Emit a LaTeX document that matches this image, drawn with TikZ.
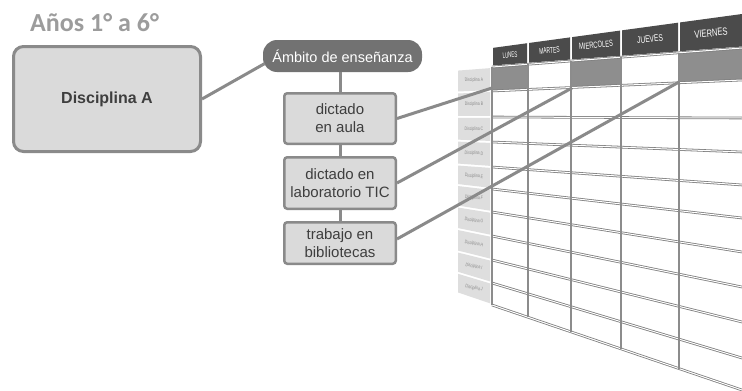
\documentclass[tikz,border=0pt]{standalone}
\usepackage{fontspec}
\usepackage{graphicx}
\setmainfont{Liberation Sans}
\newfontfamily\carlito{Carlito}
\usetikzlibrary{calc}
\definecolor{bordergray}{HTML}{8A8A8A}
\definecolor{boxfill}{HTML}{DADADA}
\definecolor{pillgray}{HTML}{727272}
\definecolor{hdrgray}{HTML}{4B4B4B}
\definecolor{cellgray}{HTML}{8E8E8E}
\definecolor{titlegray}{HTML}{9C9C9C}
\definecolor{textgray}{HTML}{3E3E3E}
\definecolor{labelfill}{HTML}{DEDEDE}
\definecolor{labeltext}{HTML}{8A8A8A}
\definecolor{gridgray}{HTML}{8C8C8C}
\definecolor{hgridgray}{HTML}{7E7E7E}
\begin{document}
\begin{tikzpicture}[x=1pt,y=-1pt,
  mainbox/.style={draw=bordergray, line width=3pt, fill=boxfill, rounded corners=10pt,
    minimum width=187pt, minimum height=105pt, text=textgray,
    font=\fontsize{16}{18}\selectfont\bfseries},
  pill/.style={fill=pillgray, rounded corners=14pt, minimum width=159pt, minimum height=32pt,
    text=white, font=\fontsize{14.5}{16}\selectfont, inner sep=0pt},
  smallbox/.style={draw=bordergray, line width=2.5pt, fill=boxfill, rounded corners=3pt,
    minimum width=111.5pt, align=center, text=textgray, inner sep=0pt,
    font=\fontsize{15}{18}\selectfont},
  link/.style={draw=bordergray, line width=3pt},
  hline/.style={draw=hgridgray, line width=0.8pt, double=white, double distance=1pt},
  vline/.style={draw=gridgray, line width=2.4pt},
  hdrtext/.style={text=white, inner sep=0pt},
  rowlabel/.style={text=labeltext, inner sep=0pt, font=\fontsize{5}{5}\selectfont},
  titletext/.style={text=titlegray, inner sep=0pt, font=\carlito\bfseries\fontsize{26}{28}\selectfont}
]
\useasboundingbox (0,0) rectangle (742,391);
\clip (0,0) rectangle (742,391);
\fill[white] (0,0) rectangle (742,391);

% ---------- grid ----------
\foreach \a/\b in {492/528, 528/571, 571/621, 621/679, 679/760} {
  \fill[hdrgray] ({\a+1},{48-34/250*(\a+1-492)}) -- ({\b-1},{48-34/250*(\b-1-492)})
    -- ({\b-1},{67-19/250*(\b-1-492)-1.5}) -- ({\a+1},{67-19/250*(\a+1-492)-1.5}) -- cycle;
}
\foreach \a/\b in {492/528, 571/621, 679/760} {
  \fill[cellgray] (\a,{67-19/250*(\a-492)}) -- (\b,{67-19/250*(\b-492)})
    -- (\b,{91-11/250*(\b-492)}) -- (\a,{91-11/250*(\a-492)}) -- cycle;
}
\foreach \L/\R in {67/48, 91/80, 117/118, 142/152, 167/185, 189/218, 212/252, 236/287, 260/322, 283/358, 305/390} {
  \draw[hline] (492,\L) -- (760,{\L+(\R-\L)/250*268});
}
\foreach \x in {492,528,571,621,679} {
  \draw[vline] (\x,{67-19/250*(\x-492)}) -- (\x,{305+85/250*(\x-492)});
}

% row labels
\foreach \L/\R/\LL/\RR/\n/\ang in {67/48/91/80/A/2.5, 91/80/117/118/B/1, 117/118/142/152/C/-1,
   142/152/167/185/D/-2.5, 167/185/189/218/E/-4, 189/218/212/252/F/-5.5, 212/252/236/287/G/-7,
   236/287/260/322/H/-9, 260/322/283/358/I/-10.5, 283/358/305/390/J/-12} {
  \fill[labelfill] (458,{\L-(\R-\L)/250*34+1}) -- (490,{\L-(\R-\L)/250*2+1})
    -- (490,{\LL-(\RR-\LL)/250*2-1}) -- (458,{\LL-(\RR-\LL)/250*34-1}) -- cycle;
  \node[rowlabel, rotate=\ang] (lab\n) at (474,{(\L+\LL)/2-0.036*((\R-\L)+(\RR-\LL))}) {\scalebox{0.7}[1]{Disciplina \n}};
}

% header labels
\node[hdrtext, rotate=4, font=\fontsize{8}{8}\selectfont] (hLun) at (510,55) {\scalebox{0.55}[1]{LUNES}};
\node[hdrtext, rotate=5, font=\fontsize{8.5}{8.5}\selectfont] (hMar) at (549.5,50.5) {\scalebox{0.58}[1]{MARTES}};
\node[hdrtext, rotate=5, font=\fontsize{9}{9}\selectfont] (hMie) at (596,45) {\scalebox{0.64}[1]{MIERCOLES}};
\node[hdrtext, rotate=5.5, font=\fontsize{9.5}{9.5}\selectfont] (hJue) at (650,39) {\scalebox{0.7}[1]{JUEVES}};
\node[hdrtext, rotate=6, font=\fontsize{10.5}{10.5}\selectfont] (hVie) at (711,33) {\scalebox{0.72}[1]{VIERNES}};

% ---------- left part ----------
\node[titletext, anchor=base west] (title) at (30,31) {Años 1° a 6°};
\node[mainbox] (discA) at (107,99) {Disciplina A};
\node[pill] (amb) at (342.5,56) {Ámbito de enseñanza};
\node[smallbox, minimum height=50.5pt] (b1) at (340,118.5) {dictado\\en aula};
\node[smallbox, minimum height=51.5pt] (b2) at (340,183) {dictado en\\laboratorio TIC};
\node[smallbox, minimum height=41.5pt] (b3) at (340,243) {trabajo en\\bibliotecas};

\coordinate (cLun) at (492,88);
\coordinate (cMie) at (572,88);
\coordinate (cVie) at (679,82);

\draw[link] (discA.east) -- ($(amb.west)+(2,7.5)$);
\draw[link] (amb.south -| b1.north) -- (b1.north);
\draw[link] (b1.south) -- (b2.north);
\draw[link] (b2.south) -- (b3.north);
\draw[link] (b1.east) -- (cLun);
\draw[link] (b2.east) -- (cMie);
\draw[link] ($(b3.east)+(0,-4)$) -- (cVie);
\end{tikzpicture}
\end{document}
